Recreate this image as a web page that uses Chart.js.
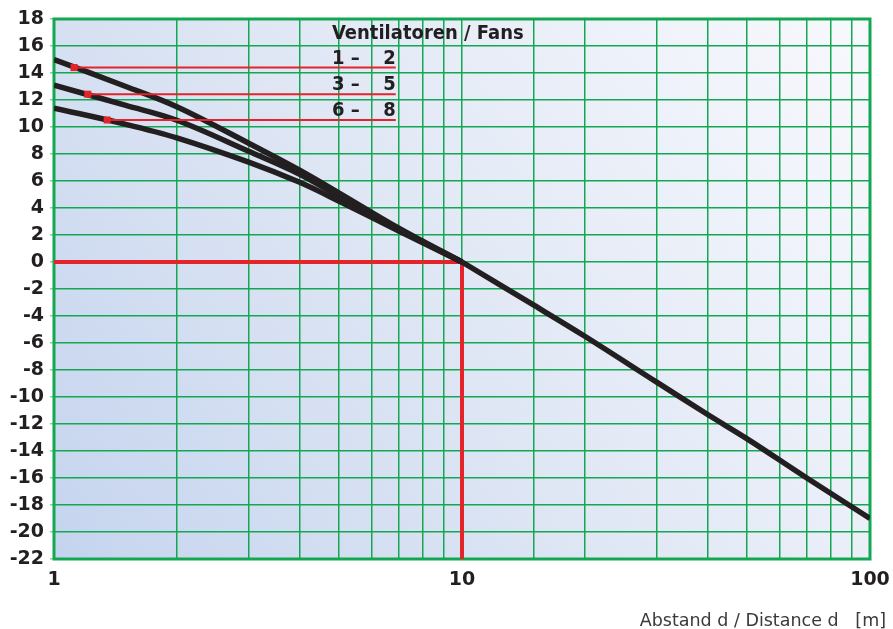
<!DOCTYPE html>
<html>
<head>
<meta charset="utf-8">
<script src="https://cdn.jsdelivr.net/npm/chart.js@4"></script>
<style>
  html, body { margin: 0; padding: 0; background: #ffffff; }
  #wrap { width: 893px; height: 629px; }
</style>
</head>
<body>
<div id="wrap"><canvas id="fanChart" width="893" height="629"></canvas></div>
<script>
// Distance points (m) for the near field, one curve per fan group
const nearDistances = [1, 1.5, 2, 3, 4, 5, 7, 10];
const fans1to2 = [15.0, 13.0, 11.5, 8.8, 6.8, 5.1, 2.5, 0];
const fans3to5 = [13.1, 11.6, 10.5, 8.2, 6.5, 4.85, 2.4, 0];
const fans6to8 = [11.4, 10.2, 9.2, 7.4, 5.9, 4.5, 2.3, 0];

// Common far-field line beyond 10 m
const farDistances = [10, 15, 20, 30, 40, 50, 70, 100];
const farLevels = [0, -3.2, -5.5, -8.9, -11.3, -13.1, -16.0, -19.0];

// Legend marker lines (start distance, end distance, level)
const legendStarts = [1.12, 1.21, 1.35];
const legendEnd = 6.88;
const legendLevels = [14.4, 12.43, 10.52];
const legendGroups = [['1', '2'], ['3', '5'], ['6', '8']];
const legendTitle = 'Ventilatoren / Fans';

// Reference point 10 m / 0
const refDistance = 10;
const refLevel = 0;

// Axis labels
const xTickLabels = [1, 10, 100];
const yMin = -22, yMax = 18, yStep = 2;
const xTitle = 'Abstand d / Distance d   [m]';

const BLACK = '#231f20';
const RED = '#e3242b';
const GREEN = '#12a852';
const FONT_C = "'DejaVu Sans Condensed', 'DejaVu Sans', sans-serif";
const FONT = "'DejaVu Sans', sans-serif";

function pairs(xs, ys) {
  return xs.map((x, i) => ({ x: x, y: ys[i] }));
}

const curveStyle = {
  borderColor: BLACK,
  borderWidth: 5.5,
  pointRadius: 0,
  fill: false,
  tension: 0.35,
  borderCapStyle: 'butt'
};

const datasets = [
  Object.assign({ label: 'Fans 1-2', data: pairs(nearDistances, fans1to2) }, curveStyle),
  Object.assign({ label: 'Fans 3-5', data: pairs(nearDistances, fans3to5) }, curveStyle),
  Object.assign({ label: 'Fans 6-8', data: pairs(nearDistances, fans6to8) }, curveStyle),
  Object.assign({ label: 'Far field', data: pairs(farDistances, farLevels) }, curveStyle),
  {
    label: 'Reference',
    data: [{ x: 1, y: refLevel }, { x: refDistance, y: refLevel }, { x: refDistance, y: yMin }],
    borderColor: RED,
    borderWidth: 4,
    pointRadius: 0,
    tension: 0,
    borderJoinStyle: 'miter',
    order: 10
  }
];

legendLevels.forEach((lvl, i) => {
  datasets.push({
    label: 'Legend ' + i,
    data: [{ x: legendStarts[i], y: lvl }, { x: legendEnd, y: lvl }],
    borderColor: RED,
    backgroundColor: RED,
    borderWidth: 2,
    pointStyle: 'rect',
    pointRadius: [5, 0],
    pointBorderWidth: 0,
    tension: 0,
    order: -1
  });
});

// Background gradient inside the plot area
const backgroundPlugin = {
  id: 'plotBackground',
  beforeDraw(chart) {
    const { ctx, chartArea: a } = chart;
    const g = ctx.createLinearGradient(a.left, a.bottom, a.right, a.top);
    g.addColorStop(0, '#c5d4ee');
    g.addColorStop(0.5, '#e1e8f5');
    g.addColorStop(1, '#f8f9fd');
    ctx.save();
    ctx.fillStyle = g;
    ctx.fillRect(a.left, a.top, a.right - a.left, a.bottom - a.top);
    ctx.restore();
  }
};

// Frame, legend texts and x axis title
const textPlugin = {
  id: 'textLayer',
  beforeDatasetsDraw(chart) {
    const { ctx, chartArea: a } = chart;
    ctx.save();
    ctx.strokeStyle = GREEN;
    ctx.lineWidth = 3;
    ctx.strokeRect(a.left, a.top, a.right - a.left, a.bottom - a.top);
    ctx.restore();
  },
  afterDatasetsDraw(chart) {
    const { ctx, scales } = chart;
    const x = scales.x, y = scales.y;
    const left = x.getPixelForValue(1) + 278;
    const right = x.getPixelForValue(legendEnd);
    ctx.save();
    ctx.fillStyle = BLACK;
    ctx.textBaseline = 'alphabetic';
    ctx.font = 'bold 20px ' + FONT_C;
    ctx.textAlign = 'left';
    ctx.fillText(legendTitle, left, y.getPixelForValue(16.5));
    legendGroups.forEach((grp, i) => {
      const base = y.getPixelForValue(legendLevels[i]) - 4;
      ctx.textAlign = 'left';
      ctx.fillText(grp[0] + ' \u2013', left, base);
      ctx.textAlign = 'right';
      ctx.fillText(grp[1], right, base);
    });
    ctx.font = '17.5px ' + FONT;
    ctx.fillStyle = '#3a3a3a';
    ctx.textAlign = 'right';
    ctx.fillText(xTitle, 886, 626);
    ctx.restore();
  }
};

const ctx = document.getElementById('fanChart').getContext('2d');
const fanChart = new Chart(ctx, {
  type: 'line',
  data: { datasets: datasets },
  options: {
    responsive: false,
    animation: false,
    layout: { padding: { top: 19, right: 23, bottom: 0, left: 0 } },
    plugins: {
      legend: { display: false },
      tooltip: { enabled: false }
    },
    scales: {
      x: {
        type: 'logarithmic',
        min: 1,
        max: 100,
        grid: { color: GREEN, lineWidth: 1.5, drawTicks: false },
        border: { display: false },
        ticks: {
          autoSkip: false,
          maxRotation: 0,
          padding: 10,
          color: BLACK,
          font: { family: FONT, size: 19, weight: 'bold' },
          callback: (v) => xTickLabels.includes(v) ? String(v) : ''
        },
        afterFit(scale) {
          scale.height = 70;
          scale.paddingLeft = 0;
          scale.paddingRight = 0;
        }
      },
      y: {
        min: yMin,
        max: yMax,
        grid: { color: GREEN, lineWidth: 1.5, tickLength: 4, tickColor: '#8fc9a4' },
        border: { display: false },
        ticks: {
          stepSize: yStep,
          padding: 6,
          color: BLACK,
          font: { family: FONT, size: 19, weight: 'bold' }
        },
        afterFit(scale) {
          scale.width = 54;
          scale.paddingTop = 0;
          scale.paddingBottom = 0;
        }
      }
    }
  },
  plugins: [backgroundPlugin, textPlugin]
});
</script>
</body>
</html>
